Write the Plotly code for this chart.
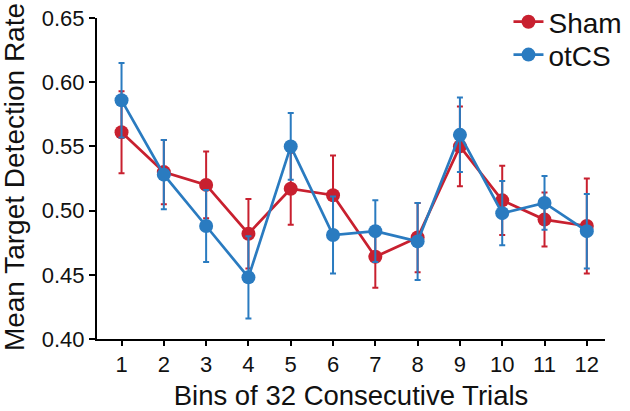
import plotly.graph_objects as go

bins = list(range(1, 13))
sham_mean = [0.561, 0.530, 0.520, 0.482, 0.517, 0.512, 0.464, 0.479, 0.550, 0.508, 0.493, 0.488]
sham_err = [0.032, 0.025, 0.026, 0.027, 0.028, 0.031, 0.024, 0.027, 0.031, 0.027, 0.021, 0.037]
otcs_mean = [0.586, 0.528, 0.488, 0.448, 0.550, 0.481, 0.484, 0.476, 0.559, 0.498, 0.506, 0.484]
otcs_err = [0.029, 0.027, 0.028, 0.032, 0.026, 0.030, 0.024, 0.030, 0.029, 0.025, 0.021, 0.029]
y_ticks = [0.40, 0.45, 0.50, 0.55, 0.60, 0.65]

RED = "#C8202F"
BLUE = "#2A7BC0"
FONT = "Liberation Sans, Arial, sans-serif"

fig = go.Figure()
for name, ys, es, col, lg in [("Sham", sham_mean, sham_err, RED, "legend"),
                              ("otCS", otcs_mean, otcs_err, BLUE, "legend2")]:
    fig.add_trace(go.Scatter(
        x=bins, y=ys, name=name, mode="lines+markers", legend=lg,
        line=dict(color=col, width=2.7),
        marker=dict(color=col, size=14),
        error_y=dict(type="data", array=es, visible=True, color=col, thickness=2, width=3),
    ))

legend_common = dict(x=0.81, xanchor="left", yanchor="middle",
                     font=dict(size=28, family=FONT, color="#111111"),
                     bgcolor="rgba(0,0,0,0)", itemwidth=30)

fig.update_layout(
    width=630, height=411,
    margin=dict(l=97, r=25, t=18, b=72, autoexpand=False),
    paper_bgcolor="white", plot_bgcolor="white",
    font=dict(family=FONT, color="#111111", size=22),
    showlegend=True,
    legend=dict(y=0.9875, **legend_common),
    legend2=dict(y=0.885, **legend_common),
    xaxis=dict(
        range=[0.42, 12.43], tickmode="array", tickvals=bins,
        ticktext=[str(b) for b in bins],
        showline=True, linecolor="black", linewidth=2,
        ticks="outside", ticklen=5, tickwidth=2, tickcolor="black",
        showgrid=False, zeroline=False, automargin=False,
        title=dict(text="Bins of 32 Consecutive Trials", font=dict(size=27.5), standoff=10),
        tickfont=dict(size=22),
    ),
    yaxis=dict(
        range=[0.40, 0.65], tickmode="array", tickvals=y_ticks,
        ticktext=["%.2f" % v for v in y_ticks],
        showline=True, linecolor="black", linewidth=2,
        ticks="outside", ticklen=6, tickwidth=2, tickcolor="black",
        showgrid=False, zeroline=False, automargin=False,
        tickfont=dict(size=22),
    ),
    annotations=[dict(
        text="Mean Target Detection Rate", textangle=-90,
        xref="paper", yref="paper", x=-0.161, y=0.505,
        xanchor="center", yanchor="middle", showarrow=False,
        font=dict(size=28, family=FONT, color="#111111"),
    )],
)

fig.write_html("out.html", config={"displayModeBar": False},
               post_script="document.body.style.margin='0';")
